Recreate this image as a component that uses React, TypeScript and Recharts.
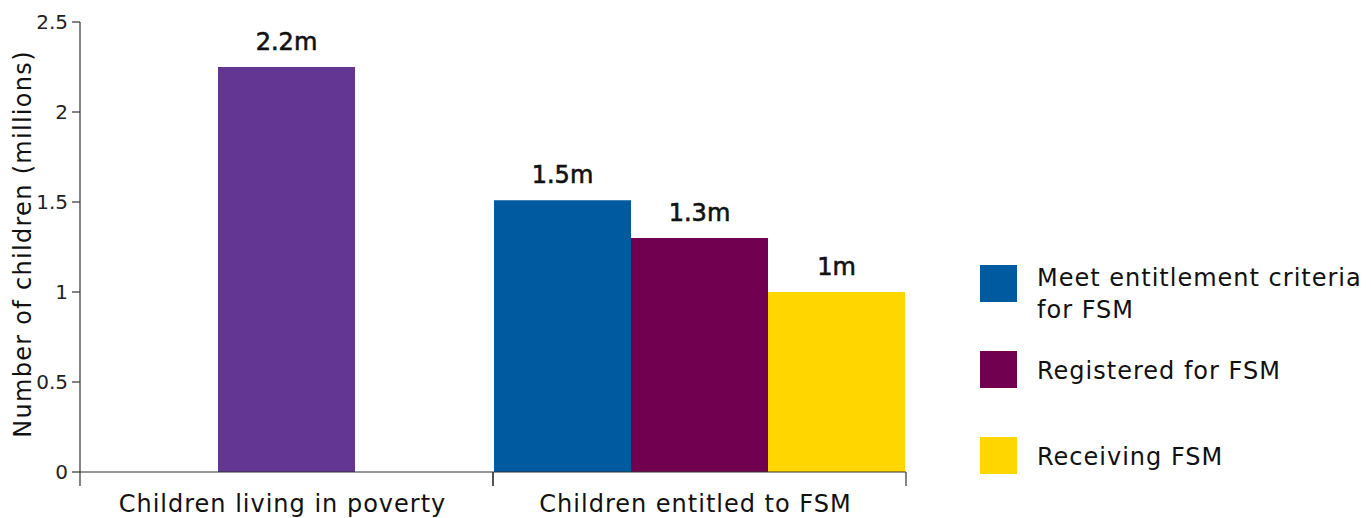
import React from "react";
import { BarChart, Bar, XAxis, YAxis, LabelList, Label } from "recharts";

const categories = ["Children living in poverty", "Children entitled to FSM"];
const povertyValues = [2.25, 0];
const meetValues = [null, 1.51];
const registeredValues = [0, 1.3];
const receivingValues = [null, 1.0];

const povertyLabels = ["2.2m", null];
const meetLabels = [null, "1.5m"];
const registeredLabels = [null, "1.3m"];
const receivingLabels = [null, "1m"];

const yTicks = [0, 0.5, 1, 1.5, 2, 2.5];

const legendNames = ["Meet entitlement criteria\nfor FSM", "Registered for FSM", "Receiving FSM"];
const COLORS = { poverty: "#633694", meet: "#005a9f", registered: "#720050", receiving: "#ffd600" };
const legendColors = [COLORS.meet, COLORS.registered, COLORS.receiving];

const data = categories.map((c, i) => ({
  name: c,
  poverty: povertyValues[i],
  meet: meetValues[i],
  registered: registeredValues[i],
  receiving: receivingValues[i],
  povertyLabel: povertyLabels[i],
  meetLabel: meetLabels[i],
  registeredLabel: registeredLabels[i],
  receivingLabel: receivingLabels[i],
}));

const FONT = "'DejaVu Sans', 'Noto Sans', sans-serif";

const XTick = (props: any) => {
  const { x, y, payload } = props;
  const half = payload && typeof payload.offset === "number" && payload.offset > 0 ? payload.offset : 206.5;
  return (
    <g>
      <line x1={x - half} x2={x - half} y1={y} y2={y + 14} stroke="#333" strokeWidth={1.2} />
      <line x1={x + half} x2={x + half} y1={y} y2={y + 14} stroke="#333" strokeWidth={1.2} />
      <text
        x={x - 4}
        y={y + 40}
        textAnchor="middle"
        fontFamily={FONT}
        fontSize={24}
        letterSpacing={1}
        fill="#111"
      >
        {payload.value}
      </text>
    </g>
  );
};

const YTick = (props: any) => {
  const { x, y, payload } = props;
  return (
    <text x={x} y={y + 7} textAnchor="end" fontFamily={FONT} fontSize={20} fill="#222">
      {payload.value}
    </text>
  );
};

const labelStyle = {
  fontFamily: FONT,
  fontSize: 24,
  fill: "#111",
  stroke: "#111",
  strokeWidth: 0.6,
  fontWeight: 400,
} as any;

export default function App() {
  return (
    <div style={{ position: "absolute", left: 0, top: 0, width: 1371, height: 518, background: "#fff", overflow: "hidden" }}>
      <BarChart
        width={1371}
        height={518}
        data={data}
        margin={{ top: 22, right: 465, left: 0, bottom: 0 }}
        barCategoryGap={1}
        barGap={0}
      >
        <XAxis
          dataKey="name"
          height={46}
          tickSize={0}
          tickMargin={0}
          tickLine={false}
          axisLine={{ stroke: "#333", strokeWidth: 1.2 }}
          tick={<XTick />}
          interval={0}
        />
        <YAxis
          width={80}
          domain={[0, 2.5]}
          ticks={yTicks}
          tickSize={8}
          tickMargin={4}
          axisLine={{ stroke: "#333", strokeWidth: 1.2 }}
          tickLine={{ stroke: "#333", strokeWidth: 1.2 }}
          tick={<YTick />}
        >
          <Label
            value="Number of children (millions)"
            angle={-90}
            position="center"
            dx={-18}
            dy={-3}
            style={{ fontFamily: FONT, fontSize: 24, fill: "#111", textAnchor: "middle", letterSpacing: 1.3 }}
          />
        </YAxis>
        <Bar dataKey="meet" stackId="a" fill={COLORS.meet} isAnimationActive={false}>
          <LabelList dataKey="meetLabel" position="top" offset={17} style={labelStyle} />
        </Bar>
        <Bar dataKey="poverty" stackId="b" fill={COLORS.poverty} isAnimationActive={false}>
          <LabelList dataKey="povertyLabel" position="top" offset={17} style={labelStyle} />
        </Bar>
        <Bar dataKey="registered" stackId="b" fill={COLORS.registered} isAnimationActive={false}>
          <LabelList dataKey="registeredLabel" position="top" offset={17} style={labelStyle} />
        </Bar>
        <Bar dataKey="receiving" stackId="c" fill={COLORS.receiving} isAnimationActive={false}>
          <LabelList dataKey="receivingLabel" position="top" offset={17} style={labelStyle} />
        </Bar>
      </BarChart>
      <div style={{ position: "absolute", left: 980, top: 265, fontFamily: FONT, fontSize: 24, color: "#111" }}>
        {legendNames.map((n, i) => (
          <div key={n} style={{ position: "absolute", left: 0, top: i * 86, width: 400 }}>
            <div style={{ position: "absolute", left: 0, top: 0, width: 37, height: 37, background: legendColors[i] }} />
            <div
              style={{
                position: "absolute",
                left: 57,
                top: n.includes("\n") ? -3 : 4,
                lineHeight: "32px",
                whiteSpace: "pre",
                letterSpacing: 1,
              }}
            >
              {n}
            </div>
          </div>
        ))}
      </div>
    </div>
  );
}
